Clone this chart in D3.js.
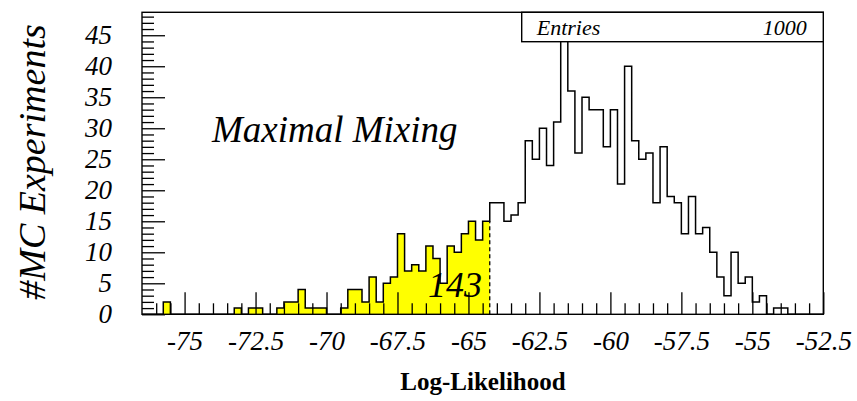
<!DOCTYPE html>
<html>
<head>
<meta charset="utf-8">
<script src="https://cdn.jsdelivr.net/npm/d3@7"></script>
<style>
  html, body { margin: 0; padding: 0; background: #fff; }
  svg { display: block; }
  svg text { font-family: "Liberation Serif", Tinos, "Times New Roman", Times, "DejaVu Serif", serif; fill: #000; }
</style>
</head>
<body>
<svg id="chart" width="857" height="401"></svg>
<script>
// Histogram of log-likelihood values from 1000 MC experiments (bins of 0.25)
const binStart = -76.5;
const binWidth = 0.25;
const counts = [
  0, 0, 0, 2, 0, 0, 0, 0, 0, 0,
  0, 0, 0, 1, 0, 1, 1, 0, 0, 1,
  2, 2, 4, 1, 1, 1, 0, 0, 1, 4,
  4, 2, 6, 2, 5, 6, 13, 7, 8, 7,
  11, 9, 5, 11, 10, 13, 15, 12, 15, 18,
  18, 15, 16, 18, 28, 25, 30, 24, 31, 46,
  36, 26, 35, 33, 33, 27, 33, 21, 40, 28,
  25, 26, 18, 27, 19, 18, 13, 19, 13, 14,
  10, 6, 3, 10, 5, 6, 2, 3, 0, 1,
  1, 0, 0, 0, 0, 0
];
// Experiments below this log-likelihood are shaded
const cutValue = -64.25;
const xTickLabels = [-75, -72.5, -70, -67.5, -65, -62.5, -60, -57.5, -55, -52.5];
const yTickLabels = [0, 5, 10, 15, 20, 25, 30, 35, 40, 45];
const entries = 1000;
const cutLabel = "143";

const serif = '"Liberation Serif", Tinos, "Times New Roman", Times, "DejaVu Serif", serif';
const svg = d3.select("#chart");
const plotL = 142, plotR = 823.3, plotT = 12.3, plotB = 314.3;

const x = d3.scaleLinear().domain([binStart, binStart + binWidth * counts.length]).range([plotL, plotR]);
const y = d3.scaleLinear().domain([0, 48.7]).range([plotB, plotT]);

const bins = counts.map((c, i) => ({ lo: binStart + i * binWidth, hi: binStart + (i + 1) * binWidth, c }));

// Step outline points
function stepPoints(bs) {
  const pts = [[bs[0].lo, 0]];
  bs.forEach(b => { pts.push([b.lo, b.c]); pts.push([b.hi, b.c]); });
  pts.push([bs[bs.length - 1].hi, 0]);
  return pts;
}

// Shaded region
const shaded = bins.filter(b => b.hi <= cutValue + 1e-9);
const area = d3.area().x(d => x(d[0])).y0(y(0)).y1(d => y(d[1]));
svg.append("path")
  .datum(stepPoints(shaded))
  .attr("d", area)
  .attr("fill", "#ffff00")
  .attr("stroke", "none");

// Dashed boundary at the cut
const lastShaded = shaded[shaded.length - 1];
svg.append("line")
  .attr("x1", x(cutValue)).attr("x2", x(cutValue))
  .attr("y1", y(0)).attr("y2", y(lastShaded.c))
  .attr("stroke", "#000").attr("stroke-width", 1.3)
  .attr("stroke-dasharray", "4,3");

// Axis ticks (pointing inward)
const xMajor = xTickLabels;
const xMinor = d3.range(-76, -52.5 + 1e-9, 0.5).filter(v => !xMajor.some(m => Math.abs(m - v) < 1e-9));
const yMinor = d3.range(0, 49, 1).filter(v => v % 5 !== 0);

function styleAxis(g) {
  g.select(".domain").remove();
  g.selectAll(".tick line").attr("stroke", "#000").attr("stroke-width", 1.3);
}

svg.append("g").attr("transform", `translate(0,${plotB})`)
  .call(d3.axisBottom(x).tickValues(xMajor).tickSize(-22).tickFormat(""))
  .call(styleAxis);
svg.append("g").attr("transform", `translate(0,${plotB})`)
  .call(d3.axisBottom(x).tickValues(xMinor).tickSize(-11).tickFormat(""))
  .call(styleAxis);
svg.append("g").attr("transform", `translate(${plotL},0)`)
  .call(d3.axisLeft(y).tickValues(yTickLabels).tickSize(-23).tickFormat(""))
  .call(styleAxis);
svg.append("g").attr("transform", `translate(${plotL},0)`)
  .call(d3.axisLeft(y).tickValues(yMinor).tickSize(-12).tickFormat(""))
  .call(styleAxis);

// Histogram outline
const line = d3.line().x(d => x(d[0])).y(d => y(d[1]));
svg.append("path")
  .datum(stepPoints(bins))
  .attr("d", line)
  .attr("fill", "none")
  .attr("stroke", "#000")
  .attr("stroke-width", 1.5);

// Frame
svg.append("rect")
  .attr("x", plotL).attr("y", plotT)
  .attr("width", plotR - plotL).attr("height", plotB - plotT)
  .attr("fill", "none").attr("stroke", "#000").attr("stroke-width", 1.4);

// Tick labels
const xLab = svg.append("g").attr("transform", `translate(0,${plotB})`)
  .call(d3.axisBottom(x).tickValues(xTickLabels).tickSize(0).tickPadding(17).tickFormat(d => String(d)));
xLab.attr("font-family", serif).select(".domain").remove();
xLab.selectAll("text")
  .style("font-family", serif)
  .style("font-style", "italic").style("font-size", "27px");

const yLab = svg.append("g").attr("transform", `translate(${plotL},0)`)
  .call(d3.axisLeft(y).tickValues(yTickLabels).tickSize(0).tickPadding(30).tickFormat(d => String(d)));
yLab.attr("font-family", serif).select(".domain").remove();
yLab.selectAll("text")
  .style("font-family", serif)
  .style("font-style", "italic").style("font-size", "27px");

// Axis titles
svg.append("text")
  .attr("x", 483).attr("y", 390)
  .attr("text-anchor", "middle")
  .style("font-family", serif)
  .style("font-weight", "bold").style("font-size", "25px")
  .text("Log-Likelihood");

svg.append("text")
  .attr("transform", "translate(45,162) rotate(-90)")
  .attr("text-anchor", "middle")
  .style("font-family", serif)
  .style("font-style", "italic").style("font-size", "38px")
  .text("#MC Experiments");

// Annotations
svg.append("text")
  .attr("x", 212).attr("y", 142)
  .style("font-family", serif)
  .style("font-style", "italic").style("font-size", "37px")
  .text("Maximal Mixing");

svg.append("text")
  .attr("x", 428).attr("y", 296.5)
  .style("font-family", serif)
  .style("font-style", "italic").style("font-size", "36px")
  .text(cutLabel);

// Statistics box
svg.append("rect")
  .attr("x", 521.7).attr("y", plotT)
  .attr("width", plotR - 521.7).attr("height", 41.7 - plotT)
  .attr("fill", "#fff").attr("stroke", "#000").attr("stroke-width", 1.4);
svg.append("text")
  .attr("x", 536.7).attr("y", 35)
  .style("font-family", serif)
  .style("font-style", "italic").style("font-size", "22px")
  .text("Entries");
svg.append("text")
  .attr("x", 806.7).attr("y", 35)
  .attr("text-anchor", "end")
  .style("font-family", serif)
  .style("font-style", "italic").style("font-size", "22px")
  .text(String(entries));
</script>
</body>
</html>
